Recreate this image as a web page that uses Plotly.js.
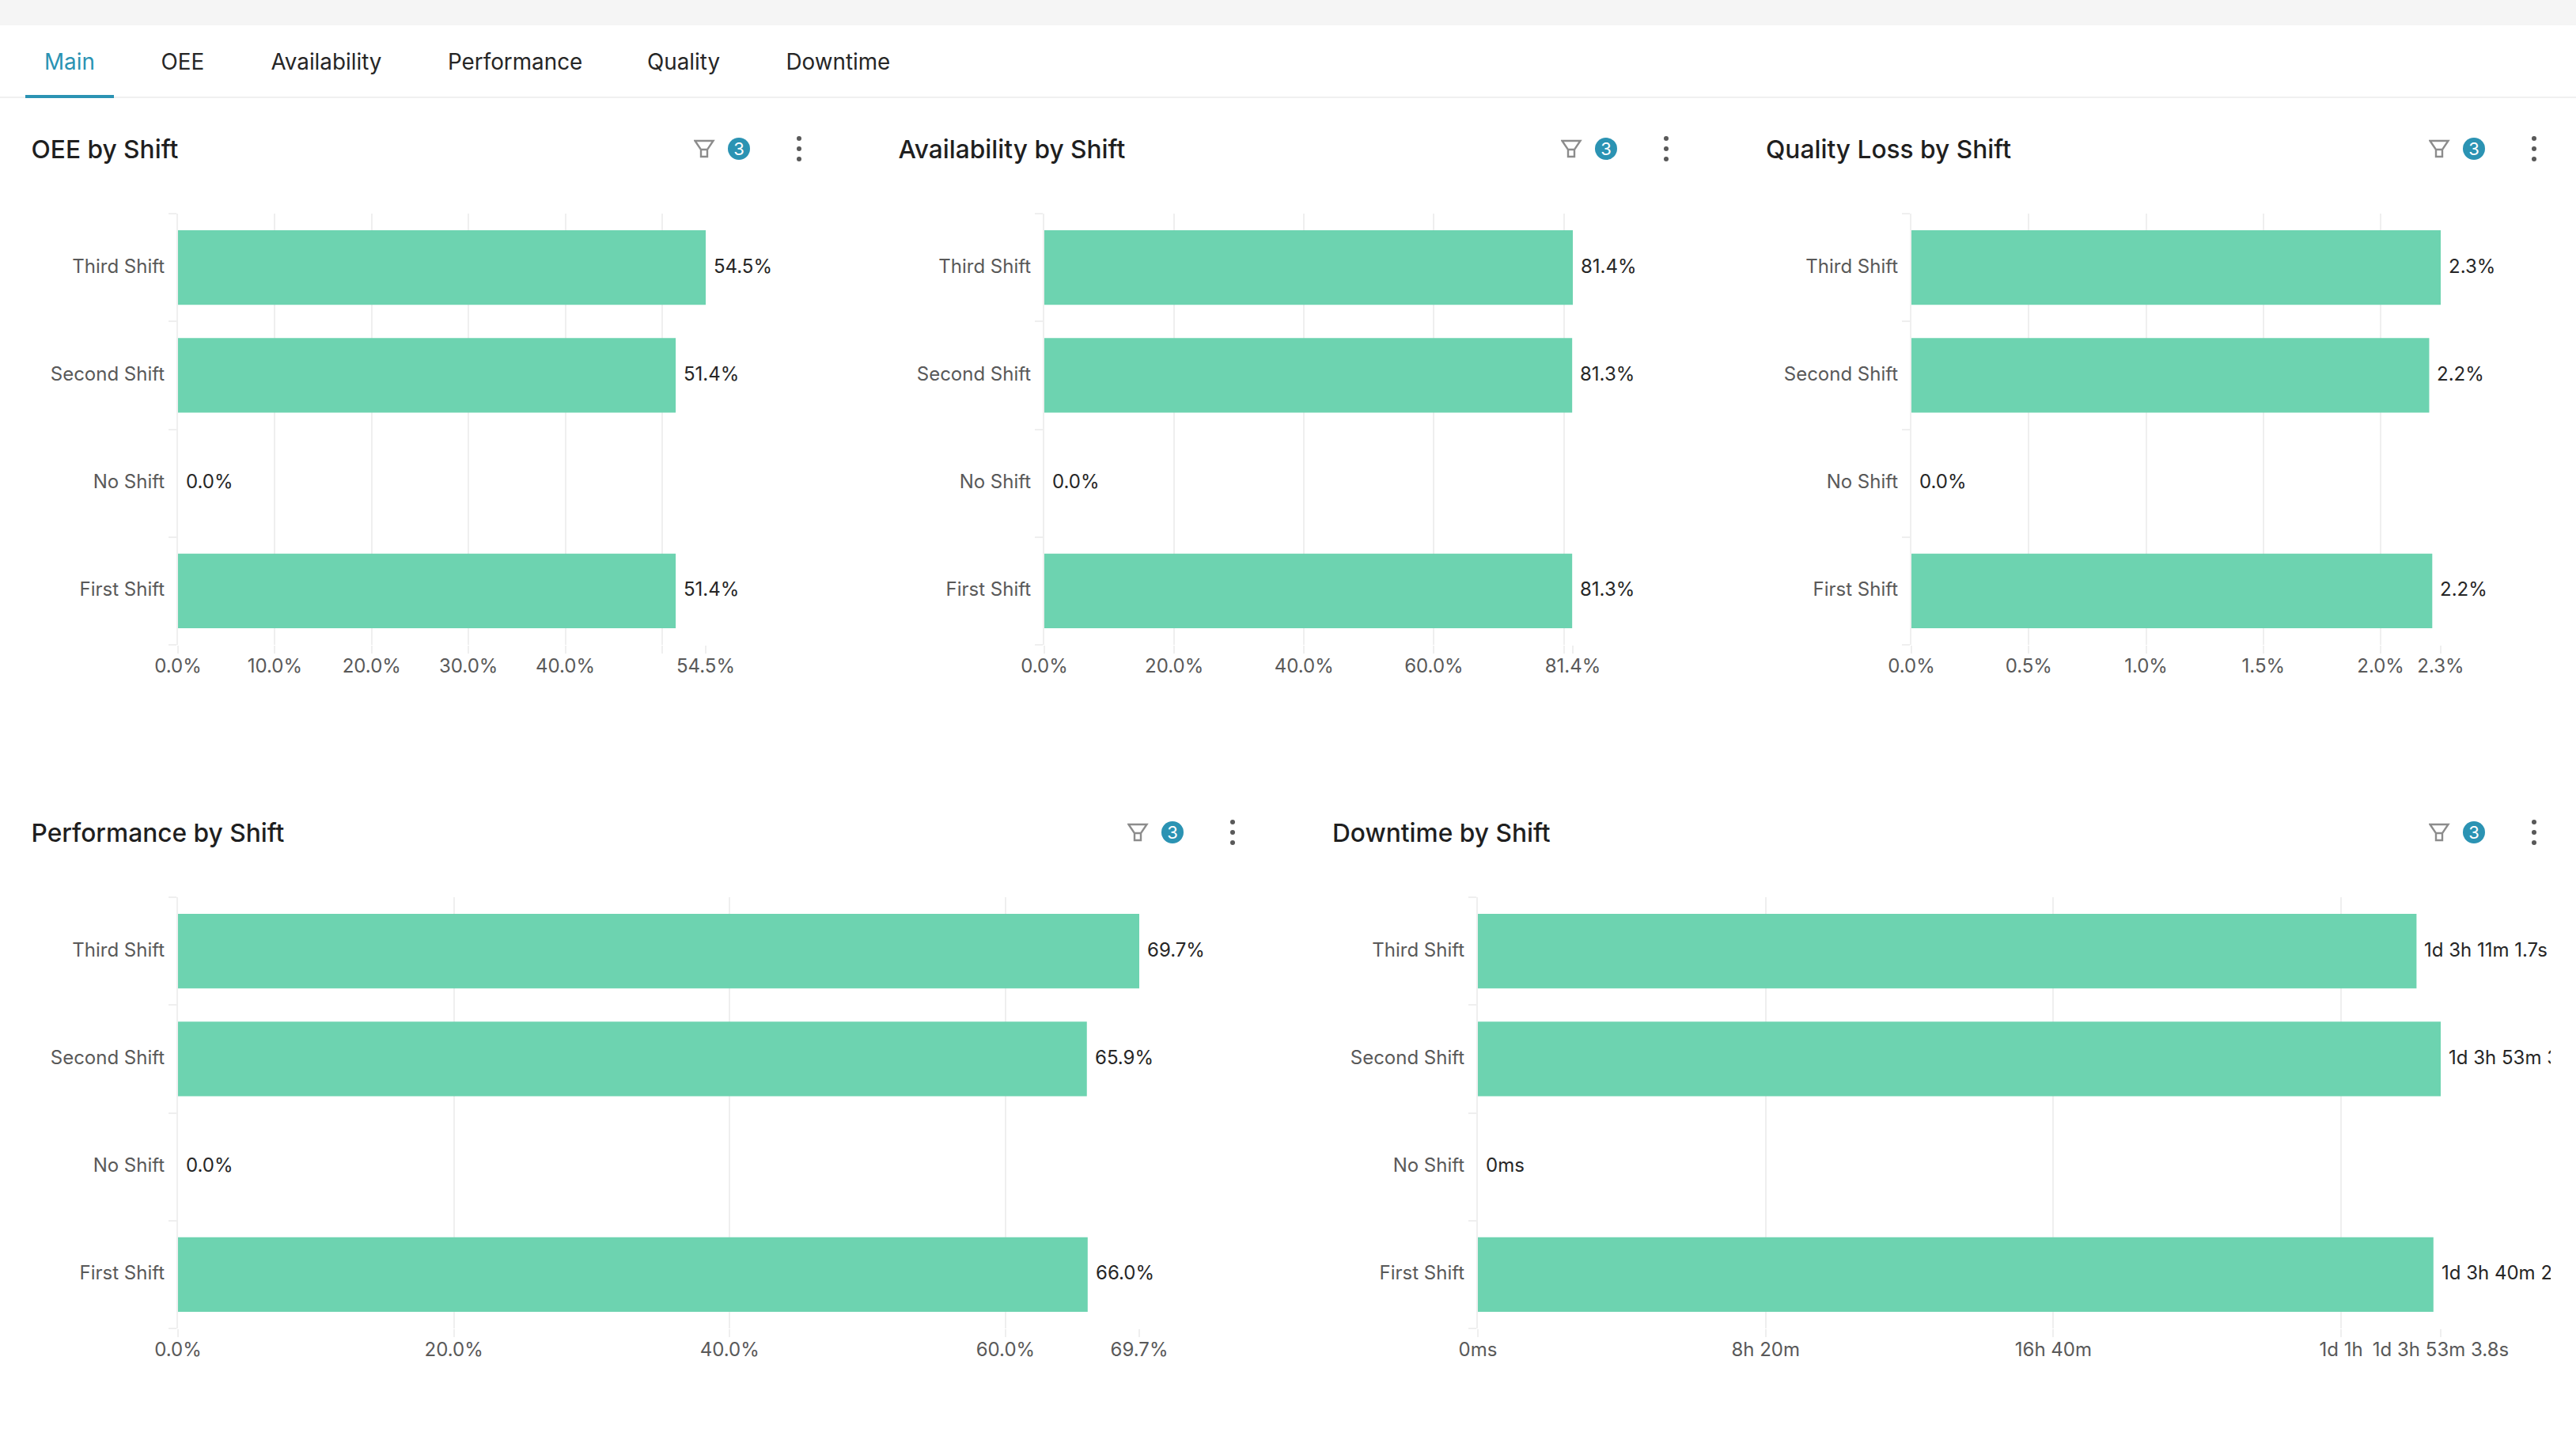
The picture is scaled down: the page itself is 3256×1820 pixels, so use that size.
<!DOCTYPE html>
<html>
<head>
<meta charset="utf-8">
<script src="https://cdn.plot.ly/plotly-3.0.1.min.js"></script>
<style>
html,body{margin:0;padding:0;background:#fff;width:3256px;height:1820px;overflow:hidden;font-family:Inter,sans-serif}
#strip{position:absolute;left:0;top:0;width:3256px;height:32px;background:#f5f5f5}
#rule{position:absolute;left:0;top:122px;width:3256px;height:2px;background:#f0f0f0}
#activeTab{position:absolute;left:32px;top:120px;width:112px;height:4px;background:#2b93b3}
.tab{position:absolute;top:60px;line-height:36px;font-size:27.8px;color:#262626;white-space:nowrap}
.title{position:absolute;line-height:40px;font-size:31.7px;font-weight:500;color:#1f1f1f;white-space:nowrap}
.icons{position:absolute;width:150px;height:40px}
.chart{position:absolute}
</style>
</head>
<body>
<div id="strip"></div><div id="rule"></div><div id="activeTab"></div>
<div id="tabs"></div>
<div id="heads"></div>
<div id="charts"></div>
<script>
const categories = ["First Shift", "No Shift", "Second Shift", "Third Shift"];
const tabNames = ["Main", "OEE", "Availability", "Performance", "Quality", "Downtime"];

const oeeValues = [51.4, 0, 51.4, 54.5];
const oeeLabels = ["51.4%", "0.0%", "51.4%", "54.5%"];
const oeeTicks = [0, 10, 20, 30, 40, 50, 54.5];
const oeeTickText = ["0.0%", "10.0%", "20.0%", "30.0%", "40.0%", "", "54.5%"];

const availabilityValues = [81.3, 0, 81.3, 81.4];
const availabilityLabels = ["81.3%", "0.0%", "81.3%", "81.4%"];
const availabilityTicks = [0, 20, 40, 60, 80, 81.4];
const availabilityTickText = ["0.0%", "20.0%", "40.0%", "60.0%", "", "81.4%"];

const qualityValues = [2.22, 0, 2.207, 2.256];
const qualityLabels = ["2.2%", "0.0%", "2.2%", "2.3%"];
const qualityTicks = [0, 0.5, 1, 1.5, 2, 2.256];
const qualityTickText = ["0.0%", "0.5%", "1.0%", "1.5%", "2.0%", "2.3%"];

const performanceValues = [65.96, 0, 65.9, 69.7];
const performanceLabels = ["66.0%", "0.0%", "65.9%", "69.7%"];
const performanceTicks = [0, 20, 40, 60, 69.7];
const performanceTickText = ["0.0%", "20.0%", "40.0%", "60.0%", "69.7%"];

// downtime in seconds
const downtimeValues = [99625, 0, 100383.8, 97861.7];
const downtimeLabels = ["1d 3h 40m 25s", "0ms", "1d 3h 53m 3.8s", "1d 3h 11m 1.7s"];
const downtimeTicks = [0, 30000, 60000, 90000, 100383.8];
const downtimeTickText = ["0ms", "8h 20m", "16h 40m", "1d 1h", "1d 3h 53m 3.8s"];

const GRID = "#efefef";
const BAR = "#6dd3b0";

tabNames.forEach((t, i) => {
  const el = document.createElement("div");
  el.className = "tab";
  el.textContent = t;
  el.style.left = [56, 203.5, 342.5, 566, 818, 993.5][i] + "px";
  if (i === 0) el.style.color = "#2b93b3";
  document.getElementById("tabs").appendChild(el);
});

function head(title, titleX, iconX, top) {
  const t = document.createElement("div");
  t.className = "title";
  t.textContent = title;
  t.style.left = titleX + "px";
  t.style.top = (top - 19) + "px";
  const ic = document.createElement("div");
  ic.className = "icons";
  ic.style.left = (iconX + 1) + "px";
  ic.style.top = (top - 20) + "px";
  ic.innerHTML = '<svg width="150" height="40" xmlns="http://www.w3.org/2000/svg">' +
    '<path d="M1.5 10 H24.5 L17 21 V30 H9 V21 Z M9 21 H17" fill="none" stroke="#8c8c8c" stroke-width="2.4"/>' +
    '<circle cx="57" cy="20" r="14" fill="#2b93b3"/>' +
    '<text x="57" y="28" text-anchor="middle" font-family="Inter" font-size="22" fill="#fff">3</text>' +
    '<circle cx="133" cy="7" r="3" fill="#595959"/><circle cx="133" cy="20" r="3" fill="#595959"/><circle cx="133" cy="33" r="3" fill="#595959"/>' +
    '</svg>';
  const h = document.getElementById("heads");
  h.appendChild(t); h.appendChild(ic);
}

function panel(id, spec) {
  const d = document.createElement("div");
  d.className = "chart"; d.id = id;
  const H = 620, T = 20, plotH = 545;
  d.style.cssText = `left:${spec.left}px;top:${spec.top - T}px;width:${spec.width}px;height:${H}px`;
  document.getElementById("charts").appendChild(d);
  Plotly.newPlot(d, [{
    type: "bar", orientation: "h",
    y: categories, x: spec.values,
    marker: {color: BAR},
    hoverinfo: "skip"
  }], {
    width: spec.width, height: H,
    margin: {l: spec.plotL - spec.left, r: spec.left + spec.width - spec.plotR, t: T, b: H - T - plotH, pad: 0},
    paper_bgcolor: "rgba(0,0,0,0)", plot_bgcolor: "rgba(0,0,0,0)",
    bargap: 0.31, showlegend: false,
    font: {family: "Inter", size: 24, color: "#595959"},
    annotations: spec.labels.map((s, i) => ({
      x: spec.values[i], y: categories[i], xref: "x", yref: "y", text: s,
      showarrow: false, xanchor: "left", yanchor: "middle", xshift: 8, yshift: 2,
      font: {family: "Inter", size: 24, color: "#262626"}
    })),
    xaxis: {
      range: [0, spec.max], tickmode: "array", tickvals: spec.ticks, ticktext: spec.tickText,
      showgrid: true, gridcolor: GRID, gridwidth: 2, zeroline: false, showline: false,
      ticks: "outside", ticklen: 10, tickwidth: 2, tickcolor: GRID, tickangle: 0, ticklabelstandoff: -5,
      tickfont: {family: "Inter", size: 24, color: "#595959"}, automargin: false
    },
    yaxis: {
      type: "category", categoryorder: "array", categoryarray: categories,
      tickson: "boundaries", showgrid: false, zeroline: false, showline: true, linecolor: GRID, linewidth: 2,
      ticks: "outside", ticklen: 10, tickwidth: 2, tickcolor: GRID, ticklabelstandoff: 10, ticklabelshift: -2,
      tickfont: {family: "Inter", size: 24, color: "#595959"}, automargin: false
    }
  }, {displayModeBar: false, staticPlot: true});
}

const R1 = 270, R2 = 1134;
head("OEE by Shift", 39.5, 876, 188);
head("Availability by Shift", 1135.5, 1972, 188);
head("Quality Loss by Shift", 2232, 3069, 188);
head("Performance by Shift", 39.5, 1424, 1052);
head("Downtime by Shift", 1684, 3069, 1052);

panel("oee", {left: 0, top: R1, width: 1090, plotL: 224.5, plotR: 892.5, max: 54.5,
  values: oeeValues, labels: oeeLabels, ticks: oeeTicks, tickText: oeeTickText});
panel("availability", {left: 1096, top: R1, width: 1090, plotL: 1320, plotR: 1988, max: 81.4,
  values: availabilityValues, labels: availabilityLabels, ticks: availabilityTicks, tickText: availabilityTickText});
panel("quality", {left: 2193, top: R1, width: 1031, plotL: 2416, plotR: 3085, max: 2.256,
  values: qualityValues, labels: qualityLabels, ticks: qualityTicks, tickText: qualityTickText});
panel("performance", {left: 0, top: R2, width: 1640, plotL: 224.5, plotR: 1440, max: 69.7,
  values: performanceValues, labels: performanceLabels, ticks: performanceTicks, tickText: performanceTickText});
panel("downtime", {left: 1645, top: R2, width: 1579, plotL: 1867.5, plotR: 3085, max: 100383.8,
  values: downtimeValues, labels: downtimeLabels, ticks: downtimeTicks, tickText: downtimeTickText});
</script>
</body>
</html>
